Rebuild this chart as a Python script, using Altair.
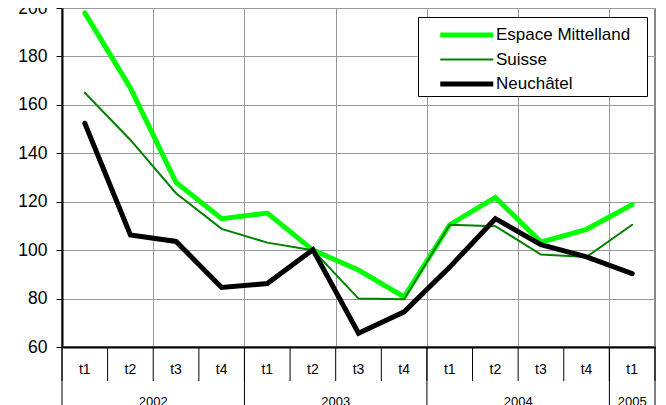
import altair as alt
import pandas as pd

quarters = ["t1", "t2", "t3", "t4", "t1", "t2", "t3", "t4", "t1", "t2", "t3", "t4", "t1"]
years = ["2002"] * 4 + ["2003"] * 4 + ["2004"] * 4 + ["2005"]
series_names = ["Espace Mittelland", "Suisse", "Neuchâtel"]
espace = [198, 167, 128, 113, 115.3, 100, 91.8, 80.7, 110.5, 121.8, 103.3, 108.6, 118.8]
suisse = [165, 145.5, 123.5, 108.8, 103.1, 100, 80, 79.7, 110.5, 109.9, 98.2, 97.2, 110.5]
neuchatel = [152.4, 106.3, 103.6, 84.6, 86.2, 100.2, 65.7, 74.5, 93, 113, 102.3, 97.2, 90.3]
series_colors = ["#00ff00", "#008000", "#000000"]
series_widths = [5, 2, 5]

n = len(quarters)
rows = []
for name, vals in zip(series_names, [espace, suisse, neuchatel]):
    for i, v in enumerate(vals):
        rows.append({"series": name, "pos": i + 0.5, "value": v})
df = pd.DataFrame(rows)

qdf = pd.DataFrame({"pos": [i + 0.5 for i in range(n)], "label": quarters})
sep_df = pd.DataFrame({"pos": list(range(n + 1))})
year_bounds = [0] + [i for i in range(1, n) if years[i] != years[i - 1]] + [n]
ysep_df = pd.DataFrame({"pos": year_bounds})
ylab_df = pd.DataFrame({
    "pos": [(year_bounds[k] + year_bounds[k + 1]) / 2 for k in range(len(year_bounds) - 1)],
    "label": [years[year_bounds[k]] for k in range(len(year_bounds) - 1)],
})

FONT = "Liberation Sans"
H = 339

xscale = alt.Scale(domain=[0, n], nice=False, zero=False)
x_enc = alt.X("pos:Q", scale=xscale,
              axis=alt.Axis(values=list(range(2, n, 2)), grid=True, labels=False,
                            ticks=False, domainColor="black", domainWidth=2,
                            gridColor="#999999", title=None))
y_enc = alt.Y("value:Q", scale=alt.Scale(domain=[60, 200], nice=False, zero=False),
              axis=alt.Axis(values=list(range(60, 201, 20)), title=None, grid=True,
                            gridColor="#999999", domainColor="black", domainWidth=2,
                            tickColor="black", tickSize=6, labelFont=FONT,
                            labelFontSize=17.5, labelColor="black", labelPadding=9))

legend = alt.Legend(title=".", titleOrient="right", titleOpacity=0, titleFontSize=2,
                    titlePadding=14,
                    orient="none", legendX=356, legendY=9,
                    fillColor="white", strokeColor="black", padding=2,
                    symbolType="M-3,0H1", symbolSize=702, symbolOffset=44,
                    labelFont=FONT, labelFontSize=17, labelColor="black",
                    labelOffset=0, rowPadding=-3, labelLimit=0)

base = alt.Chart(df).mark_line(strokeCap="round").encode(
    x=x_enc,
    y=y_enc,
    color=alt.Color("series:N", scale=alt.Scale(domain=series_names, range=series_colors), legend=legend),
    strokeWidth=alt.StrokeWidth("series:N", scale=alt.Scale(type="ordinal", domain=series_names, range=series_widths), legend=legend),
)
lines = [base.transform_filter(alt.datum.series == name) for name in series_names]

qlabels = alt.Chart(qdf).mark_text(font=FONT, fontSize=14, color="black").encode(
    x=alt.X("pos:Q", scale=xscale), y=alt.value(362), text="label:N")
seps = alt.Chart(sep_df).mark_rule(color="black", strokeWidth=1).encode(
    x=alt.X("pos:Q", scale=xscale), y=alt.value(H), y2=alt.value(373))
yseps = alt.Chart(ysep_df).mark_rule(color="black", strokeWidth=1).encode(
    x=alt.X("pos:Q", scale=xscale), y=alt.value(H), y2=alt.value(400))
ylabels = alt.Chart(ylab_df).mark_text(font=FONT, fontSize=13, color="black", baseline="top").encode(
    x=alt.X("pos:Q", scale=xscale), y=alt.value(388), text="label:N")

chart = alt.layer(*lines, seps, yseps, qlabels, ylabels).properties(
    width=593, height=H,
    autosize=alt.AutoSizeParams(type="none"),
    padding={"left": 54, "top": 0, "right": 3, "bottom": 58},
).configure_view(stroke="#888888", strokeWidth=2)

chart.save("out.html", embed_options={"renderer": "svg", "actions": False})
